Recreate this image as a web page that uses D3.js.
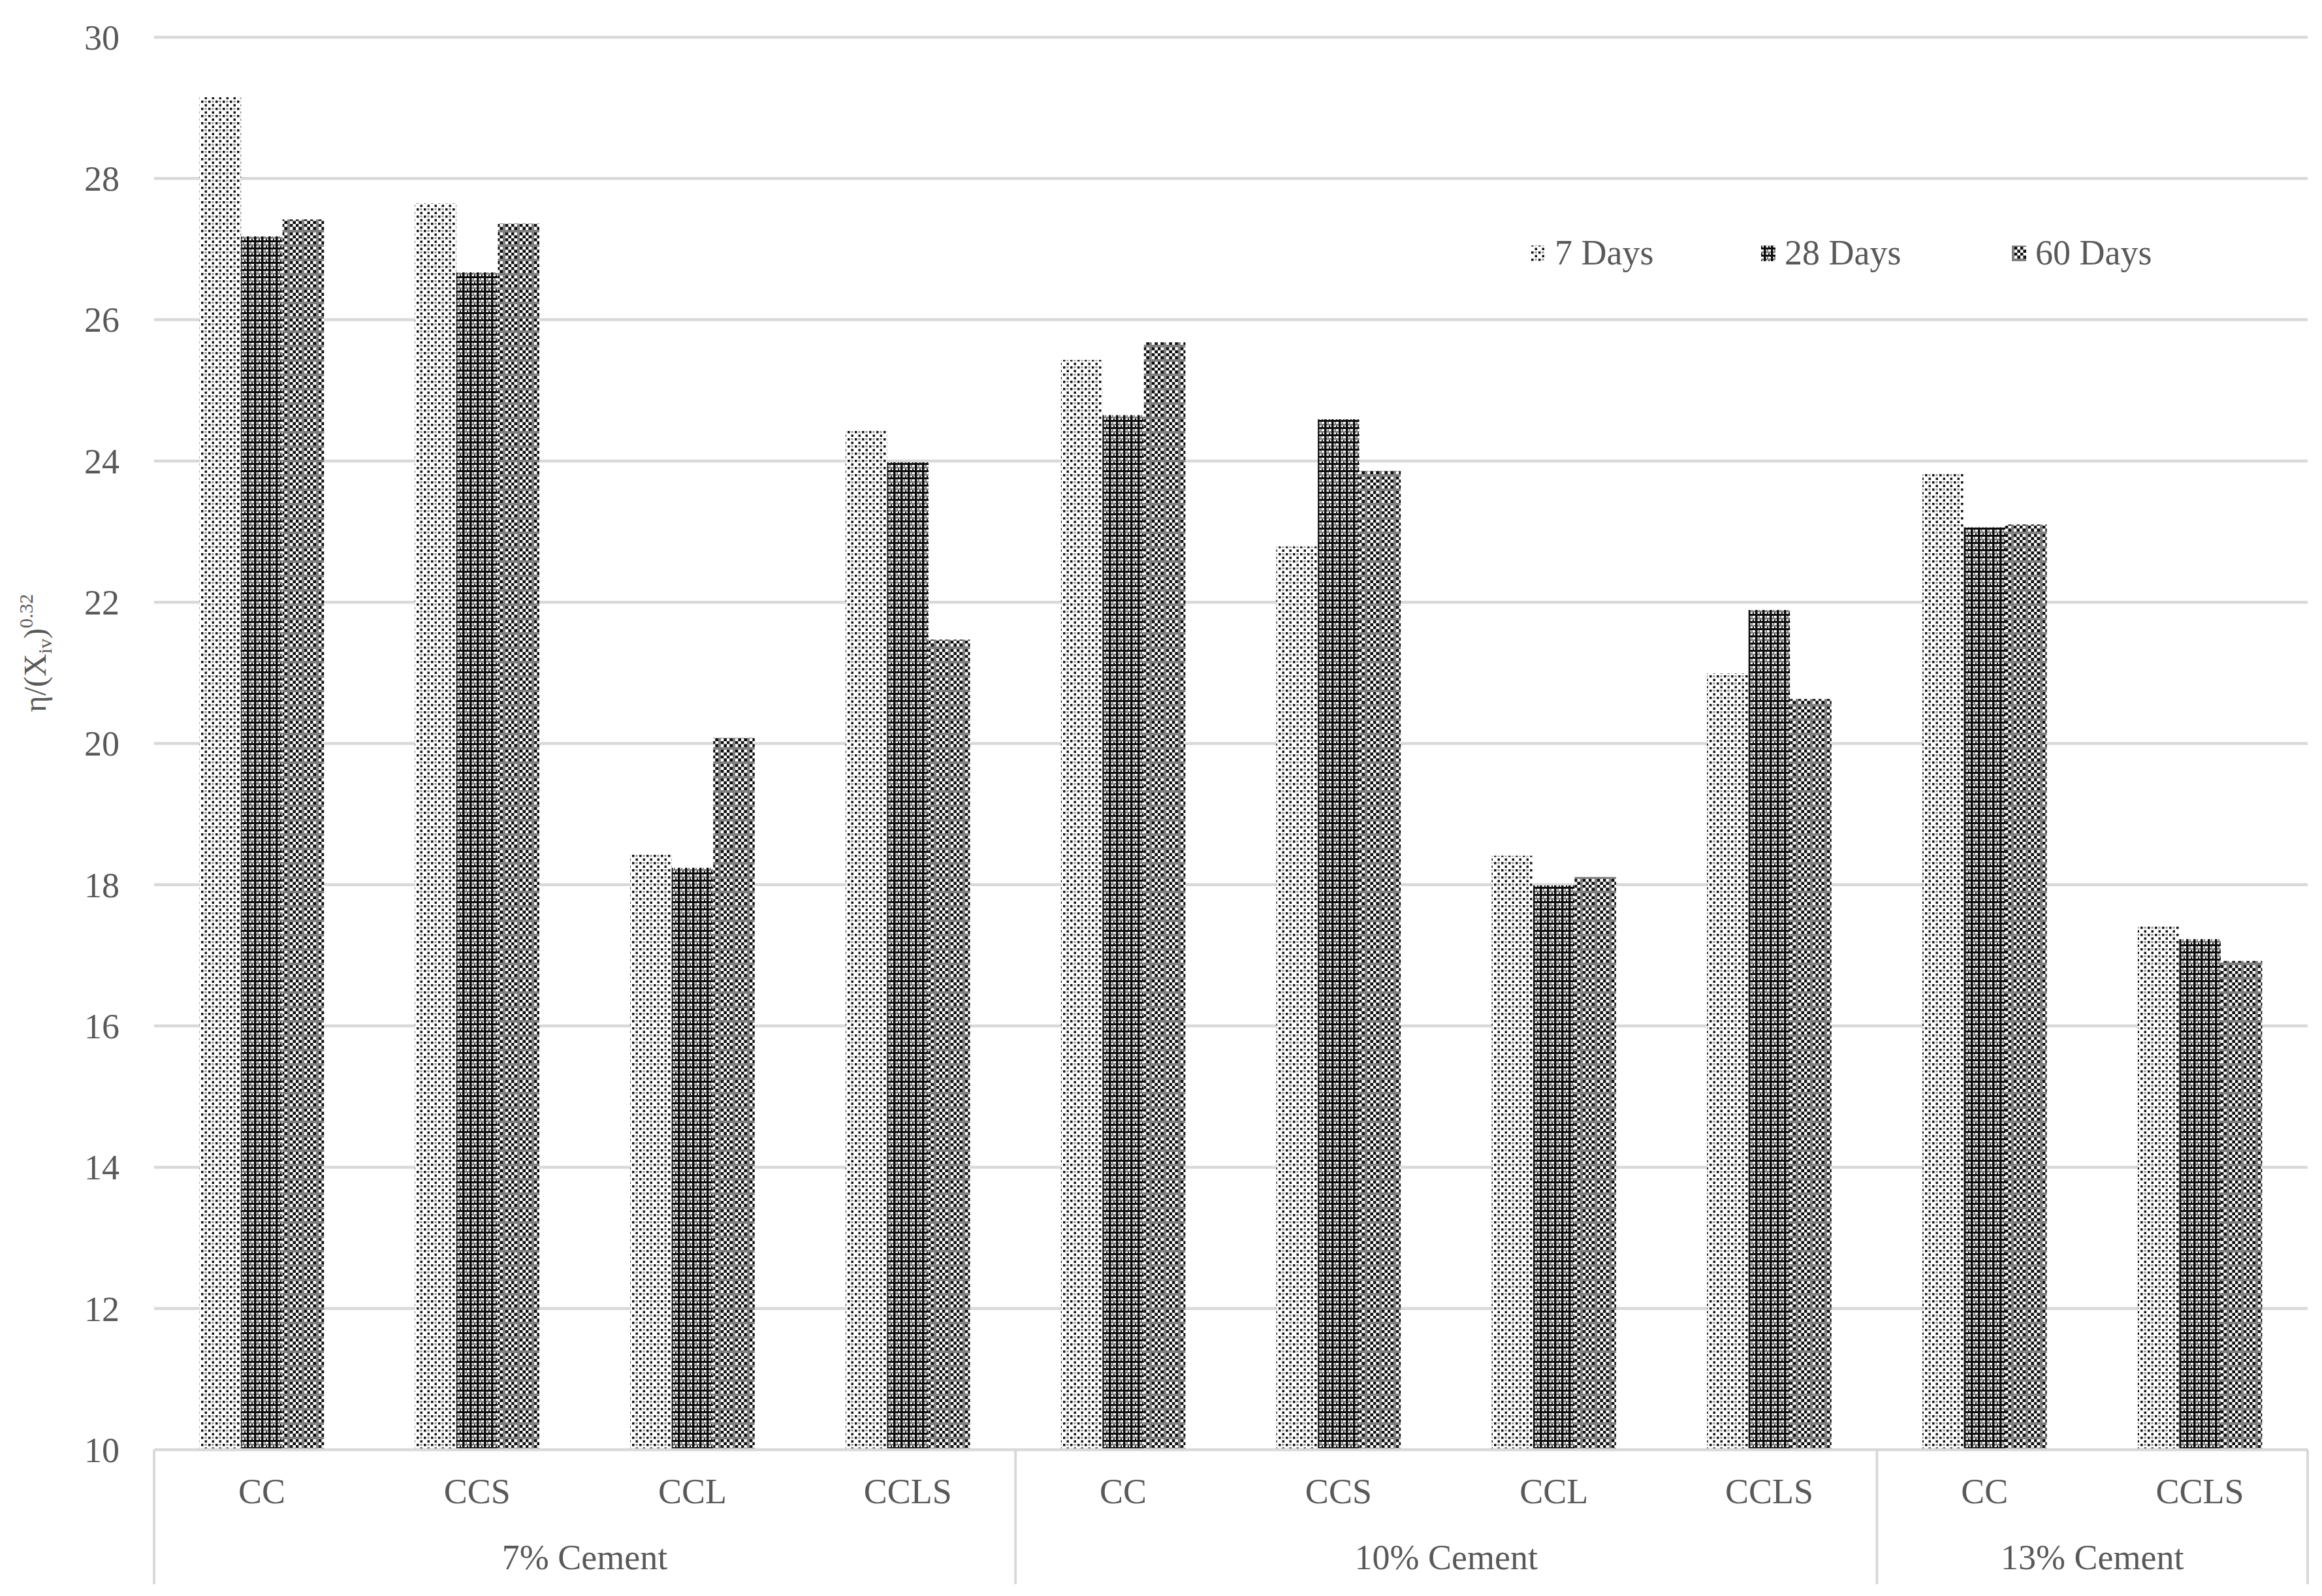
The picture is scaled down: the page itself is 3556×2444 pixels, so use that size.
<!DOCTYPE html>
<html>
<head>
<meta charset="utf-8">
<script src="https://cdn.jsdelivr.net/npm/d3@7/dist/d3.min.js"></script>
<style>
  html, body { margin: 0; padding: 0; background: #ffffff; }
  svg { display: block; }
</style>
</head>
<body>
<svg id="chart" width="3556" height="2444"></svg>
<script>
// ---------------- data ----------------
const categories = ["CC", "CCS", "CCL", "CCLS", "CC", "CCS", "CCL", "CCLS", "CC", "CCLS"];
const groupLabels = ["7% Cement", "10% Cement", "13% Cement"];
const groupSizes = [4, 4, 2];
const seriesNames = ["7 Days", "28 Days", "60 Days"];
const days7  = [29.15, 27.65, 18.43, 24.44, 25.43, 22.79, 18.41, 20.99, 23.82, 17.41];
const days28 = [27.18, 26.67, 18.24, 23.98, 24.65, 24.59, 17.99, 21.89, 23.06, 17.23];
const days60 = [27.42, 27.36, 20.08, 21.47, 25.68, 23.86, 18.11, 20.63, 23.10, 16.92];
const yTicks = [10, 12, 14, 16, 18, 20, 22, 24, 26, 28, 30];

const seriesValues = [days7, days28, days60];

// ---------------- layout ----------------
const W = 3556, H = 2444;
const plot = { left: 236, right: 3534, top: 57, bottom: 2220 };
const FONT = "'Liberation Serif', 'Times New Roman', serif";
const TEXT = "#595959";
const GRID = "#d9d9d9";

const svg = d3.select("#chart");
svg.append("rect").attr("width", W).attr("height", H).attr("fill", "#ffffff");

// ---------------- patterns ----------------
const defs = svg.append("defs");
function makePattern(id, w, h, rects) {
  const p = defs.append("pattern").attr("id", id)
    .attr("patternUnits", "userSpaceOnUse").attr("width", w).attr("height", h);
  rects.forEach(r => p.append("rect").attr("x", r[0]).attr("y", r[1])
    .attr("width", r[2]).attr("height", r[3]).attr("fill", r[4]));
}
// 7 Days: dotted
makePattern("p7", 11, 11, [
  [0, 0, 11, 11, "#ffffff"],
  [0, 0, 3.5, 3.5, "#111111"],
  [5.5, 5.5, 3.5, 3.5, "#111111"],
  [5.5, 0, 3, 3, "#9a9a9a"]
]);
// 28 Days: dark crosses with grey
makePattern("p28", 11, 11, [
  [0, 0, 11, 11, "#ffffff"],
  [0, 0, 11, 2.5, "#808080"],
  [4, 0, 3.5, 11, "#0d0d0d"],
  [0, 5, 11, 3, "#0d0d0d"],
  [0, 2.5, 2, 2.5, "#0d0d0d"],
  [9, 8, 2, 3, "#808080"]
]);
// 60 Days: checkerboard with grey grid
(function () {
  const r = [[0, 0, 22, 22, "#808080"]];
  const c = 4.5;
  for (let i = 0; i < 4; i++) {
    for (let j = 0; j < 4; j++) {
      r.push([4 + i * c, 4 + j * c, c, c, (i + j) % 2 === 0 ? "#0d0d0d" : "#ffffff"]);
    }
  }
  makePattern("p60", 22, 22, r);
})();
const patternIds = ["p7", "p28", "p60"];

// ---------------- scales ----------------
const y = d3.scaleLinear().domain([10, 30]).range([plot.bottom, plot.top]);
const x0 = d3.scaleBand().domain(d3.range(categories.length))
  .range([plot.left, plot.right]).paddingInner(0).paddingOuter(0);
const x1 = d3.scaleBand().domain(d3.range(seriesNames.length))
  .range([0, x0.bandwidth()]).paddingInner(0).paddingOuter(1.097);

// ---------------- gridlines ----------------
svg.append("g").selectAll("line").data(yTicks.filter(t => t !== 10)).join("line")
  .attr("x1", plot.left).attr("x2", plot.right)
  .attr("y1", d => y(d)).attr("y2", d => y(d))
  .attr("stroke", GRID).attr("stroke-width", 4.5);

// y tick labels
const yAxis = d3.axisLeft(y).tickValues(yTicks).tickSize(0).tickPadding(0);
const yg = svg.append("g").attr("transform", "translate(183,0)").call(yAxis);
yg.select(".domain").remove();
yg.selectAll("text").attr("font-family", FONT).attr("font-size", 54)
  .attr("fill", TEXT).attr("dy", "0.34em");

// ---------------- bars ----------------
const barData = [];
categories.forEach((c, i) => {
  seriesValues.forEach((vals, s) => barData.push({ i, s, v: vals[i] }));
});
svg.append("g").selectAll("rect").data(barData).join("rect")
  .attr("x", d => x0(d.i) + x1(d.s))
  .attr("width", x1.bandwidth())
  .attr("y", d => y(d.v))
  .attr("height", d => y(10) - y(d.v))
  .attr("fill", d => `url(#${patternIds[d.s]})`);

// ---------------- category axis (multi-level) ----------------
const axisG = svg.append("g");
axisG.append("line").attr("x1", plot.left).attr("x2", plot.right)
  .attr("y1", y(10)).attr("y2", y(10))
  .attr("stroke", GRID).attr("stroke-width", 4.5);

const boxBottom = 2426;
const boundaries = [0];
groupSizes.reduce((acc, n) => { boundaries.push(acc + n); return acc + n; }, 0);
const boundaryX = boundaries.map(b => b < categories.length ? x0(b) : plot.right);
axisG.selectAll("line.sep").data(boundaryX).join("line").attr("class", "sep")
  .attr("x1", d => d).attr("x2", d => d)
  .attr("y1", y(10)).attr("y2", boxBottom)
  .attr("stroke", GRID).attr("stroke-width", 4);

axisG.selectAll("text.cat").data(categories).join("text").attr("class", "cat")
  .attr("x", (d, i) => x0(i) + x0.bandwidth() / 2)
  .attr("y", 2302)
  .attr("text-anchor", "middle")
  .attr("font-family", FONT).attr("font-size", 54).attr("fill", TEXT)
  .text(d => d);

axisG.selectAll("text.grp").data(groupLabels).join("text").attr("class", "grp")
  .attr("x", (d, i) => (boundaryX[i] + boundaryX[i + 1]) / 2)
  .attr("y", 2403)
  .attr("text-anchor", "middle")
  .attr("font-family", FONT).attr("font-size", 54).attr("fill", TEXT)
  .text(d => d);

// ---------------- y-axis title ----------------
const title = svg.append("text")
  .attr("transform", "translate(70,1000) rotate(-90)")
  .attr("text-anchor", "middle")
  .attr("font-family", FONT).attr("font-size", 48).attr("fill", TEXT);
title.append("tspan").text("η/(X");
title.append("tspan").attr("font-size", 30).attr("dy", 9).text("iv");
title.append("tspan").attr("dy", -9).text(")");
title.append("tspan").attr("font-size", 30).attr("dy", -20).text("0.32");

// ---------------- legend ----------------
const legendX = [2345, 2697, 3081];
const legend = svg.append("g");
seriesNames.forEach((name, s) => {
  const g = legend.append("g").attr("transform", `translate(${legendX[s]},0)`);
  g.append("rect").attr("x", 0).attr("y", 376).attr("width", 22).attr("height", 24)
    .attr("fill", `url(#${patternIds[s]})`);
  g.append("text").attr("x", 36).attr("y", 405)
    .attr("font-family", FONT).attr("font-size", 54).attr("fill", TEXT)
    .text(name);
});
</script>
</body>
</html>
